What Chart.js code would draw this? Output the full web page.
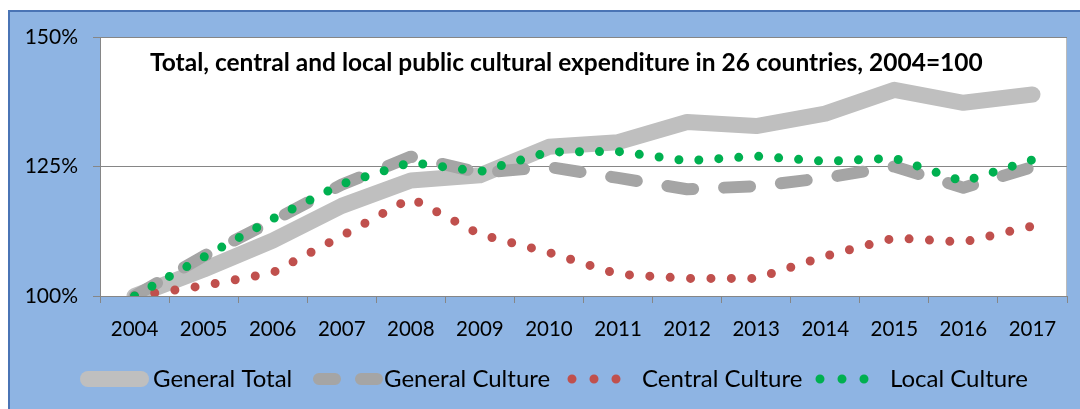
<!DOCTYPE html>
<html><head><meta charset="utf-8">
<script src="https://cdn.jsdelivr.net/npm/chart.js@4"></script>
<style>html,body{margin:0;padding:0;background:#fff;overflow:hidden}
#wrap{position:relative;width:1080px;height:409px}</style>
</head><body><div id="wrap"><canvas id="c" width="1080" height="409"></canvas></div>
<script>
const categories = ['2004','2005','2006','2007','2008','2009','2010','2011','2012','2013','2014','2015','2016','2017'];
const generalTotal   = [100, 105.1, 110.7, 117.4, 122.3, 123.3, 128.8, 129.7, 133.6, 132.8, 135.2, 139.8, 137.3, 138.9];
const generalCulture = [100, 107.7, 114.5, 121.5, 126.9, 123.8, 124.9, 122.8, 120.6, 121.2, 122.8, 125.0, 120.9, 124.9];
const centralCulture = [100, 102.0, 104.5, 111.6, 118.9, 111.9, 108.4, 104.2, 103.4, 103.4, 107.7, 111.2, 110.4, 113.5];
const localCulture   = [100, 107.5, 114.9, 121.6, 125.8, 124.0, 127.8, 127.9, 126.1, 127.0, 126.0, 126.6, 122.1, 126.3];
const yTicks = [100, 125, 150];
const seriesNames = ['General Total', 'General Culture', 'Central Culture', 'Local Culture'];
const titleText = 'Total, central and local public cultural expenditure in 26 countries, 2004=100';

const FONT = 'Lato, "Open Sans", sans-serif';
const GRID = '#868686';

const legendLayout = [
  {x1: 88,  x2: 141, width: 16, dash: [],     textX: 153},
  {x1: 319, x2: 377, width: 12, dash: [16,26], textX: 384},
  {x1: 572, x2: 616, width: 9,  dash: [0,22],  textX: 642},
  {x1: 820, x2: 864, width: 9,  dash: [0,22],  textX: 890}
];

const decor = {
  id: 'decor',
  beforeDraw(chart) {
    const {ctx, chartArea: a} = chart;
    ctx.save();
    ctx.fillStyle = '#fff'; ctx.fillRect(0, 0, 1080, 409);
    ctx.fillStyle = '#8EB4E3'; ctx.fillRect(8, 10, 1072, 399);
    ctx.strokeStyle = '#4A74B5'; ctx.lineWidth = 2;
    ctx.beginPath(); ctx.moveTo(9, 409); ctx.lineTo(9, 11); ctx.lineTo(1080, 11); ctx.stroke();
    ctx.fillStyle = '#fff'; ctx.fillRect(a.left, a.top, a.right - a.left, a.bottom - a.top);
    ctx.strokeStyle = '#BBBBBB'; ctx.lineWidth = 1;
    ctx.beginPath(); ctx.moveTo(a.right - 0.5, a.top); ctx.lineTo(a.right - 0.5, a.bottom); ctx.stroke();
    ctx.restore();
  },
  afterDraw(chart) {
    const {ctx} = chart;
    ctx.save();
    ctx.fillStyle = '#000';
    ctx.font = 'bold 24.5px ' + FONT;
    ctx.textAlign = 'left'; ctx.textBaseline = 'middle';
    ctx.fillText(titleText, 150, 63);
    const ly = 379;
    chart.data.datasets.forEach((ds, i) => {
      const L = legendLayout[i];
      ctx.save();
      ctx.strokeStyle = ds.borderColor;
      ctx.lineWidth = L.width;
      ctx.lineCap = 'round';
      ctx.setLineDash(L.dash);
      ctx.beginPath(); ctx.moveTo(L.x1, ly); ctx.lineTo(L.x2 + 0.01, ly); ctx.stroke();
      ctx.restore();
      ctx.fillStyle = '#000';
      ctx.font = '24px ' + FONT;
      ctx.textAlign = 'left'; ctx.textBaseline = 'middle';
      ctx.fillText(seriesNames[i], L.textX, ly);
    });
    ctx.restore();
  }
};

const common = {pointRadius: 0, pointHoverRadius: 0, tension: 0, fill: false, clip: 0, borderCapStyle: 'round', borderJoinStyle: 'round'};

new Chart(document.getElementById('c'), {
  type: 'line',
  data: {
    labels: categories,
    datasets: [
      Object.assign({label: seriesNames[0], data: generalTotal,   borderColor: '#BFBFBF', borderWidth: 16, order: 3}, common),
      Object.assign({label: seriesNames[1], data: generalCulture, borderColor: '#A5A5A5', borderWidth: 12, borderDash: [26, 31], order: 2}, common),
      Object.assign({label: seriesNames[2], data: centralCulture, borderColor: '#C0504D', borderWidth: 9, borderDash: [0, 20.4], order: 1}, common),
      Object.assign({label: seriesNames[3], data: localCulture,   borderColor: '#00B050', borderWidth: 9, borderDash: [0, 20], order: 0}, common)
    ]
  },
  options: {
    responsive: false, animation: false, devicePixelRatio: 1,
    layout: {padding: {left: 0, top: 37, right: 13, bottom: 0}},
    plugins: {legend: {display: false}, title: {display: false}, tooltip: {enabled: false}},
    scales: {
      x: {
        type: 'category', offset: true,
        grid: {offset: true, drawOnChartArea: false, drawTicks: true, tickLength: 7, color: GRID, lineWidth: 1},
        border: {display: true, color: GRID, width: 1},
        ticks: {font: {family: FONT, size: 20.5}, color: '#000', padding: 14, maxRotation: 0, autoSkip: false},
        afterFit(s) { s.height = 113; }
      },
      y: {
        min: 100, max: 150,
        afterBuildTicks(s) { s.ticks = yTicks.map(v => ({value: v})); },
        ticks: {callback: v => v + '%', font: {family: FONT, size: 21}, color: '#000', padding: 15},
        grid: {color: GRID, tickLength: 7, lineWidth: 1},
        border: {display: true, color: GRID, width: 1},
        afterFit(s) { s.width = 100; }
      }
    }
  },
  plugins: [decor]
});
</script></body></html>
